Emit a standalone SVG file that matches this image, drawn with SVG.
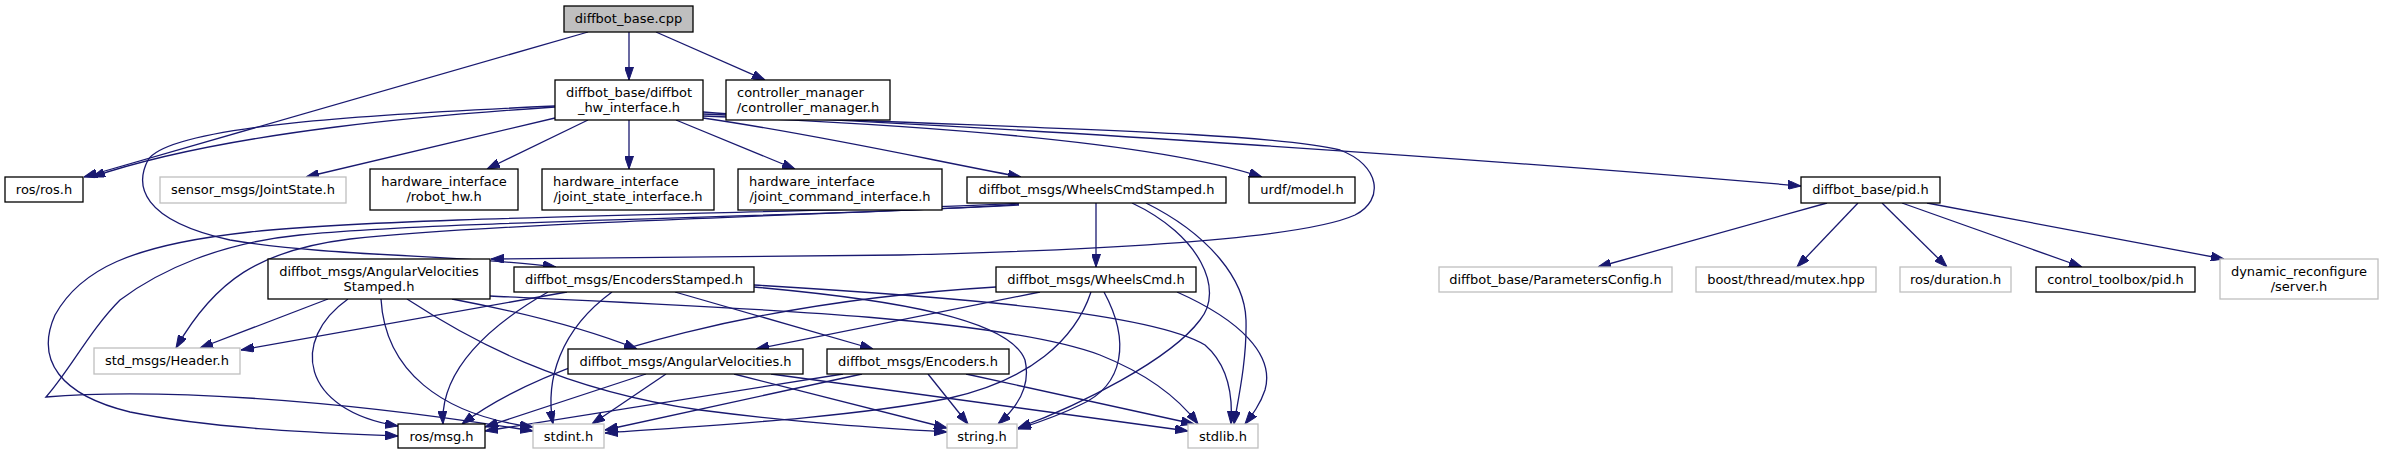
<svg xmlns="http://www.w3.org/2000/svg" width="2383" height="455" viewBox="0 0 2383 455">
<defs>
<marker id="ah" viewBox="0 0 13 9" refX="13" refY="4.5" markerWidth="13" markerHeight="9" markerUnits="userSpaceOnUse" orient="auto">
<path d="M0,0 L13,4.5 L0,9 z" fill="#191970" stroke="#191970" stroke-width="1"/>
</marker>
<style>
.n rect{fill:#ffffff;stroke:#000000;stroke-width:1.3}
.g rect{stroke:#bfbfbf}
.root rect{fill:#bfbfbf}
text{font-family:"DejaVu Sans","Liberation Sans",sans-serif;font-size:13px;fill:#000000}
.c{text-anchor:middle}
.s{text-anchor:start}
#edges path{fill:none;stroke:#191970;stroke-width:1.3;marker-end:url(#ah)}
</style>
</defs>
<rect x="0" y="0" width="2383" height="455" fill="#ffffff"/>
<g id="edges">
<path d="M629,32 L629,80"/>
<path d="M656,32 L765,80"/>
<path d="M588,32 L84,177"/>
<path d="M555,107 C450,114 230,130 92,177"/>
<path d="M555,118 L306,177"/>
<path d="M588,120 L487,169"/>
<path d="M629,120 L629,169"/>
<path d="M676,120 L795,169"/>
<path d="M703,118 C820,135 930,160 1021,177"/>
<path d="M703,116 C900,124 1150,140 1262,177"/>
<path d="M703,114 C1000,126 1500,160 1801,186"/>
<path d="M703,112 C880,126 1250,128 1340,150 C1380,165 1385,200 1355,215 C1300,240 1100,250 900,255 C700,258 560,258 491,259"/>
<path d="M555,106 C380,114 170,125 148,160 C135,185 140,220 230,240 C330,257 470,255 556,267"/>
<path d="M1096,203 L1096,267"/>
<path d="M1132,203 C1200,235 1225,290 1200,320 C1170,360 1080,405 1018,428"/>
<path d="M1146,203 C1210,235 1245,280 1246,320 C1247,360 1238,400 1234,424"/>
<path d="M1019,203 C900,212 400,215 250,232 C130,245 80,270 55,315 C35,360 60,395 130,412 C220,430 330,433 398,436"/>
<path d="M1019,204 C900,215 450,220 300,235 C220,243 160,270 120,300 C90,330 70,370 46,397 C150,388 330,398 533,431"/>
<path d="M1019,205 C800,216 500,223 350,239 C260,250 215,280 176,348"/>
<path d="M452,299 C520,312 590,330 637,349"/>
<path d="M328,299 L200,348"/>
<path d="M348,299 C290,340 300,410 398,426"/>
<path d="M381,299 C385,370 440,415 533,427"/>
<path d="M407,299 C470,340 560,390 700,410 C800,423 880,428 947,432"/>
<path d="M490,296 C750,308 1000,318 1100,355 C1150,375 1180,400 1198,424"/>
<path d="M675,292 L873,349"/>
<path d="M567,292 L241,350"/>
<path d="M548,292 C490,325 440,370 443,424"/>
<path d="M612,292 C560,330 545,380 553,424"/>
<path d="M754,287 C900,300 1010,320 1025,360 C1032,390 1012,412 998,424"/>
<path d="M754,285 C950,297 1150,312 1205,345 C1228,365 1233,395 1231,424"/>
<path d="M646,374 L485,427"/>
<path d="M666,374 L592,424"/>
<path d="M734,374 L947,428"/>
<path d="M771,374 L1188,431"/>
<path d="M843,374 L485,431"/>
<path d="M862,374 L605,430"/>
<path d="M928,374 L968,424"/>
<path d="M966,374 L1194,424"/>
<path d="M1040,292 L756,349"/>
<path d="M996,287 C780,300 560,350 462,424"/>
<path d="M1091,292 C1075,340 1030,380 950,398 C850,418 700,426 605,433"/>
<path d="M1104,292 C1130,340 1125,385 1080,405 C1060,415 1040,422 1018,429"/>
<path d="M1177,292 C1240,320 1275,355 1265,390 C1260,405 1252,415 1245,424"/>
<path d="M1827,203 L1598,267"/>
<path d="M1858,203 L1797,267"/>
<path d="M1882,203 L1947,267"/>
<path d="M1902,203 L2082,267"/>
<path d="M1927,203 L2224,259"/>
</g>
<g id="n_root" class="n root"><rect x="564" y="6" width="129" height="26"/><text class="c" x="628.5" y="23">diffbot_base.cpp</text></g>
<g id="n_hw" class="n"><rect x="555" y="80" width="148" height="40"/><text class="c" x="629" y="97">diffbot_base/diffbot</text><text class="c" x="629" y="112">_hw_interface.h</text></g>
<g id="n_cm" class="n"><rect x="726" y="80" width="164" height="40"/><text class="s" x="737" y="97">controller_manager</text><text class="c" x="808" y="112">/controller_manager.h</text></g>
<g id="n_rosh" class="n"><rect x="5" y="177" width="78" height="25"/><text class="c" x="44" y="194">ros/ros.h</text></g>
<g id="n_js" class="n g"><rect x="160" y="177" width="186" height="26"/><text class="c" x="253" y="194">sensor_msgs/JointState.h</text></g>
<g id="n_rhw" class="n"><rect x="370" y="169" width="148" height="41"/><text class="c" x="444" y="186">hardware_interface</text><text class="c" x="444" y="201">/robot_hw.h</text></g>
<g id="n_jsi" class="n"><rect x="542" y="169" width="172" height="41"/><text class="s" x="553" y="186">hardware_interface</text><text class="c" x="628" y="201">/joint_state_interface.h</text></g>
<g id="n_jci" class="n"><rect x="738" y="169" width="204" height="41"/><text class="s" x="749" y="186">hardware_interface</text><text class="c" x="840" y="201">/joint_command_interface.h</text></g>
<g id="n_wcs" class="n"><rect x="967" y="177" width="259" height="26"/><text class="c" x="1096.5" y="194">diffbot_msgs/WheelsCmdStamped.h</text></g>
<g id="n_urdf" class="n"><rect x="1249" y="177" width="106" height="26"/><text class="c" x="1302" y="194">urdf/model.h</text></g>
<g id="n_pid" class="n"><rect x="1801" y="177" width="139" height="26"/><text class="c" x="1870.5" y="194">diffbot_base/pid.h</text></g>
<g id="n_avs" class="n"><rect x="268" y="259" width="222" height="40"/><text class="c" x="379" y="276">diffbot_msgs/AngularVelocities</text><text class="c" x="379" y="291">Stamped.h</text></g>
<g id="n_es" class="n"><rect x="514" y="267" width="240" height="25"/><text class="c" x="634" y="284">diffbot_msgs/EncodersStamped.h</text></g>
<g id="n_wc" class="n"><rect x="996" y="267" width="200" height="25"/><text class="c" x="1096" y="284">diffbot_msgs/WheelsCmd.h</text></g>
<g id="n_pc" class="n g"><rect x="1439" y="267" width="233" height="25"/><text class="c" x="1555.5" y="284">diffbot_base/ParametersConfig.h</text></g>
<g id="n_mutex" class="n g"><rect x="1696" y="267" width="180" height="25"/><text class="c" x="1786" y="284">boost/thread/mutex.hpp</text></g>
<g id="n_dur" class="n g"><rect x="1900" y="267" width="111" height="25"/><text class="c" x="1955.5" y="284">ros/duration.h</text></g>
<g id="n_ctp" class="n"><rect x="2036" y="267" width="159" height="25"/><text class="c" x="2115.5" y="284">control_toolbox/pid.h</text></g>
<g id="n_dyn" class="n g"><rect x="2220" y="259" width="158" height="40"/><text class="c" x="2299" y="276">dynamic_reconfigure</text><text class="c" x="2299" y="291">/server.h</text></g>
<g id="n_hdr" class="n g"><rect x="94" y="348" width="146" height="26"/><text class="c" x="167" y="365">std_msgs/Header.h</text></g>
<g id="n_av" class="n"><rect x="568" y="349" width="235" height="25"/><text class="c" x="685.5" y="366">diffbot_msgs/AngularVelocities.h</text></g>
<g id="n_enc" class="n"><rect x="827" y="349" width="182" height="25"/><text class="c" x="918" y="366">diffbot_msgs/Encoders.h</text></g>
<g id="n_msg" class="n"><rect x="398" y="424" width="87" height="24"/><text class="c" x="441.5" y="441">ros/msg.h</text></g>
<g id="n_stdint" class="n g"><rect x="533" y="424" width="71" height="24"/><text class="c" x="568.5" y="441">stdint.h</text></g>
<g id="n_string" class="n g"><rect x="947" y="424" width="70" height="24"/><text class="c" x="982" y="441">string.h</text></g>
<g id="n_stdlib" class="n g"><rect x="1188" y="424" width="70" height="24"/><text class="c" x="1223" y="441">stdlib.h</text></g>
</svg>
